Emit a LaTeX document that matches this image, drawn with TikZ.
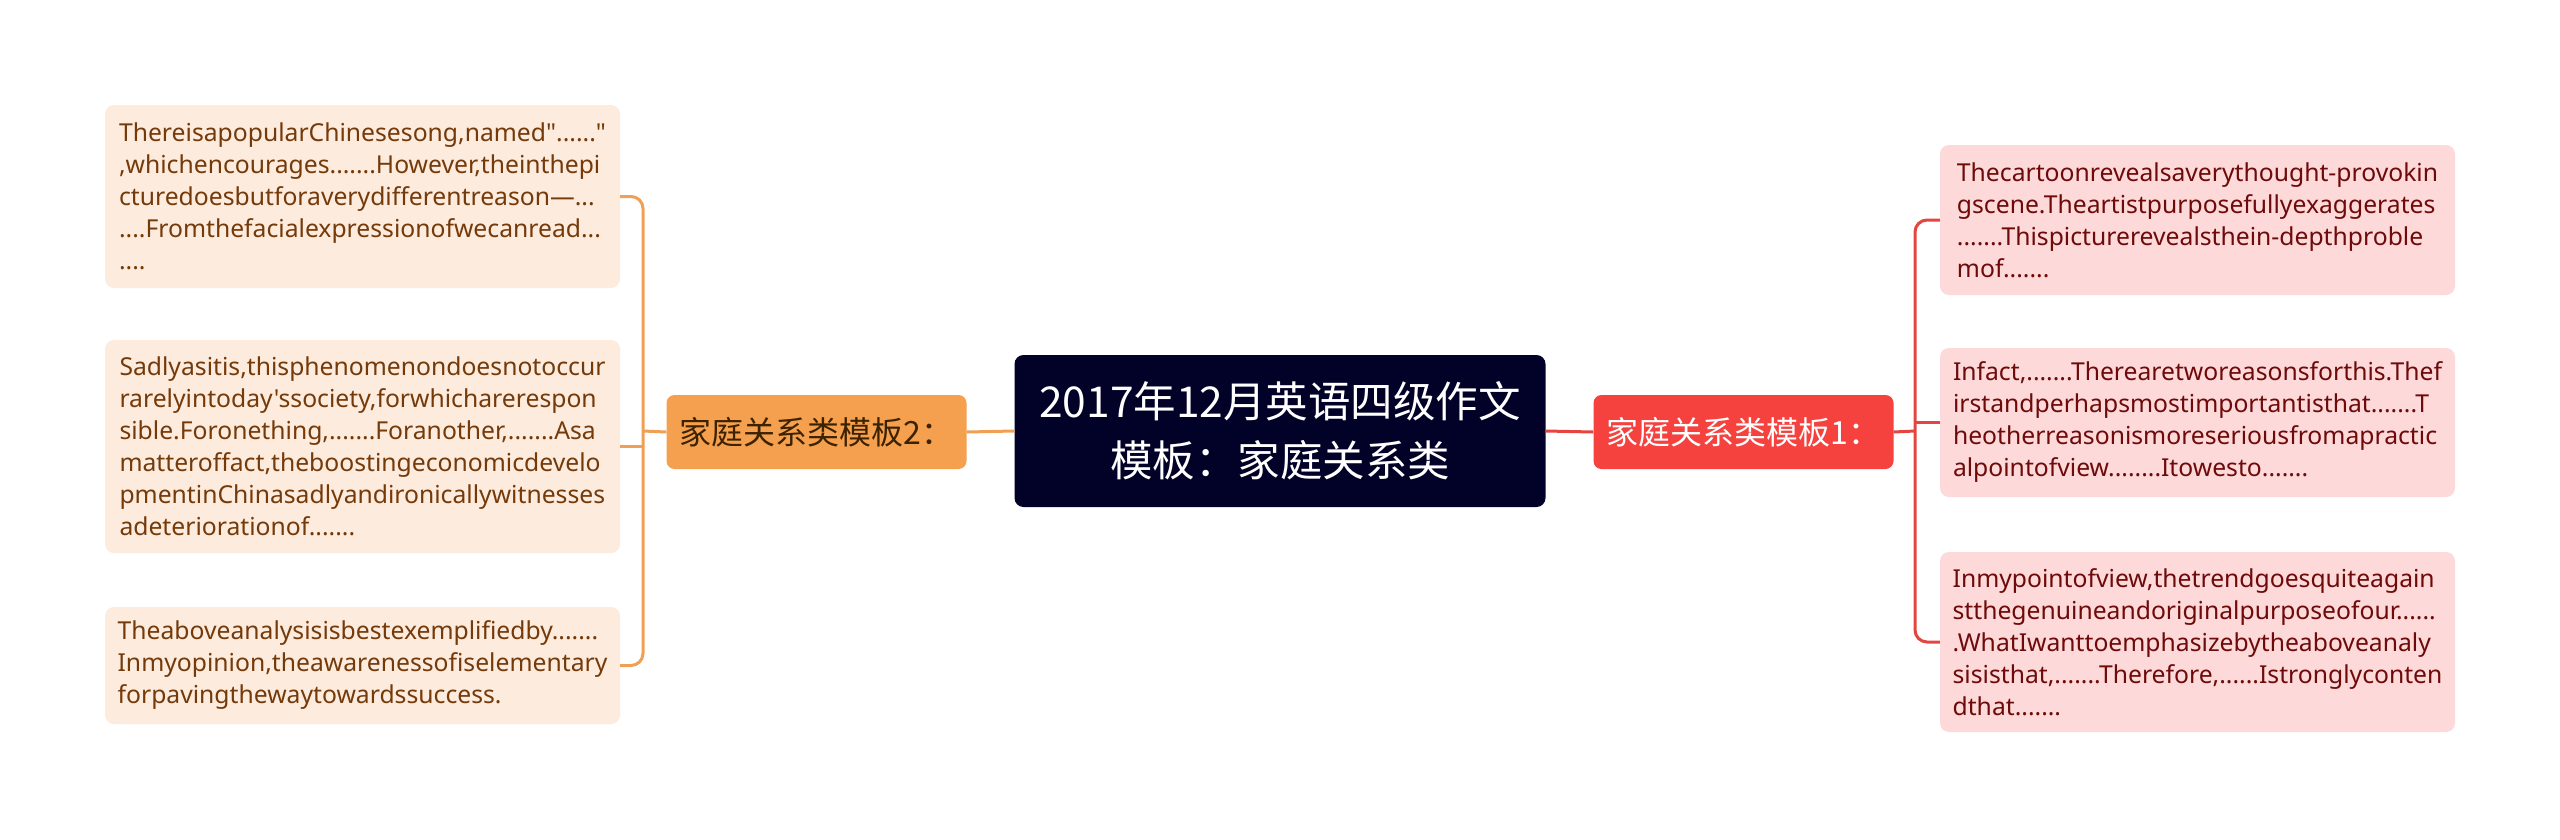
\documentclass[tikz,border=0pt]{standalone}
\usepackage{fontspec}
\setmainfont{Noto Sans}[Ligatures=TeXOff]
\newfontfamily\cjk{Noto Sans CJK SC}
\definecolor{cfill}{HTML}{020228}
\definecolor{ofill}{HTML}{F5A04E}
\definecolor{oline}{HTML}{F0A055}
\definecolor{otext}{HTML}{3D2200}
\definecolor{lfill}{HTML}{FDEBDD}
\definecolor{ltext}{HTML}{753A0A}
\definecolor{rfill}{HTML}{F5423E}
\definecolor{rline}{HTML}{E5453F}
\definecolor{rlfill}{HTML}{FDD9D9}
\definecolor{rltext}{HTML}{6E0A0A}
\begin{document}
\begin{tikzpicture}[x=1pt,y=-1pt,
  leafbox/.style={rectangle, rounded corners=9pt, minimum width=515pt, align=left,
    inner sep=0pt, font=\fontsize{24.7}{32}\selectfont},
  leafl/.style={leafbox, fill=lfill, text=ltext},
  leafr/.style={leafbox, fill=rlfill, text=rltext},
  branch/.style={rectangle, rounded corners=8pt, minimum width=300pt, minimum height=74pt,
    inner sep=0pt, font=\cjk\fontsize{32}{38}\selectfont},
  olink/.style={draw=oline, line width=3pt, rounded corners=12pt},
  rlink/.style={draw=rline, line width=3pt, rounded corners=12pt}]
\useasboundingbox[fill=white] (0,0) rectangle (2560,839);

\node[rectangle, rounded corners=9pt, fill=cfill, text=white, minimum width=531pt,
  minimum height=152pt, align=center, inner sep=0pt,
  font=\cjk\fontsize{42.5}{59}\selectfont] (center) at (1280,431)
  {2017年12月英语四级作文\\模板：家庭关系类};

\node[branch, fill=ofill, text=otext] (orange) at (816.5,432) {家庭关系类模板2：};
\node[branch, fill=rfill, text=white] (red) at (1743.5,432) {家庭关系类模板1：};

\node[leafl, minimum height=183pt] (L1) at (362.5,196.5)
  {ThereisapopularChinesesong,named"......"\\,whichencourages.......However,theinthepi\\cturedoesbutforaverydifferentreason—...\\....Fromthefacialexpressionofwecanread...\\....};
\node[leafl, minimum height=213pt] (L2) at (362.5,446.5)
  {Sadlyasitis,thisphenomenondoesnotoccur\\rarelyintoday'ssociety,forwhicharerespon\\sible.Foronething,.......Foranother,.......Asa\\matteroffact,theboostingeconomicdevelo\\pmentinChinasadlyandironicallywitnesses\\adeteriorationof.......};
\node[leafl, minimum height=117pt] (L3) at (362.5,665.5)
  {Theaboveanalysisisbestexemplifiedby.......\\Inmyopinion,theawarenessofiselementary\\forpavingthewaytowardssuccess.};

\node[leafr, minimum height=150pt] (R1) at (2197.5,220)
  {Thecartoonrevealsaverythought-provokin\\gscene.Theartistpurposefullyexaggerates\\.......Thispicturerevealsthein-depthproble\\mof.......};
\node[leafr, minimum height=149pt] (R2) at (2197.5,422.5)
  {Infact,.......Therearetworeasonsforthis.Thef\\irstandperhapsmostimportantisthat.......T\\heotherreasonismoreseriousfromapractic\\alpointofview........Itowesto.......};
\node[leafr, minimum height=180pt] (R3) at (2197.5,642)
  {Inmypointofview,thetrendgoesquiteagain\\stthegenuineandoriginalpurposeofour......\\.WhatIwanttoemphasizebytheaboveanaly\\sisisthat,.......Therefore,......Istronglyconten\\dthat.......};

\coordinate (lb) at (643,431);
\coordinate (rb) at (1915,431);

\draw[olink] (center.west) -- (orange.east);
\draw[rlink] (center.east) -- (red.west);

\draw[olink] (L1.east) -| (lb) |- (L3.east);
\draw[olink] (orange.west) -- (lb);
\draw[olink] (lb |- L2.east) -- (L2.east);

\draw[rlink] (R1.west) -| (rb) |- (R3.west);
\draw[rlink] (red.east) -- (rb);
\draw[rlink] (rb |- R2.west) -- (R2.west);
\end{tikzpicture}
\end{document}
